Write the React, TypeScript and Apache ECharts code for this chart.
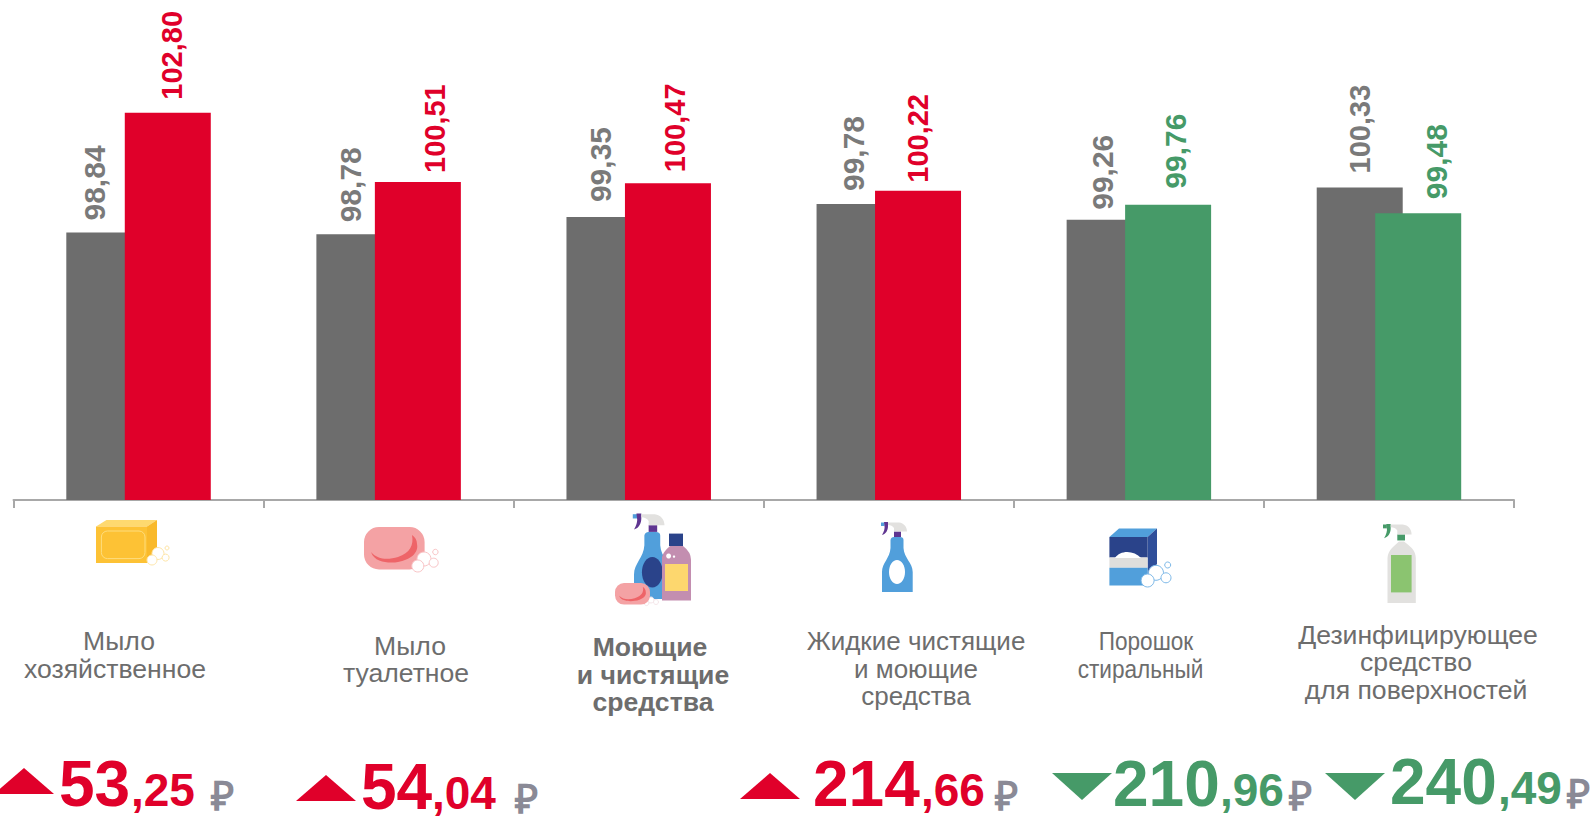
import React, { useEffect, useRef } from "react";
import * as echarts from "echarts";

const categories = ["Мыло хозяйственное", "Мыло туалетное", "Моющие и чистящие средства", "Жидкие чистящие и моющие средства", "Порошок стиральный", "Дезинфицирующее средство для поверхностей"];
const previousValues = [98.84, 98.78, 99.35, 99.78, 99.26, 100.33];
const currentValues = [102.8, 100.51, 100.47, 100.22, 99.76, 99.48];
const prices = ["53,25", "54,04", null, "214,66", "210,96", "240,49"];
const categoryLines = [
  ["Мыло", "хозяйственное"],
  ["Мыло", "туалетное"],
  ["Моющие", "и чистящие", "средства"],
  ["Жидкие чистящие", "и моющие", "средства"],
  ["Порошок", "стиральный"],
  ["Дезинфицирующее", "средство", "для поверхностей"],
];

const RED = "#e0002a";
const GREEN = "#469a68";
const GREY = "#6d6d6d";
const BLUE = "#519fdb";
const NAVY = "#2a438a";
const PURPLE = "#5f3591";
const PINK = "#f4a2a4";
const LIGHT = "#e2e1df";
const FONT = '"Liberation Sans", Arial, sans-serif';

// label placement: [gap above the bar, sideways shift from the bar centre]
const greyLabelShift = [[12, -15], [12, -9], [15, -9], [13, -6], [10, -7], [14, 0]];
const redLabelShift = [[13, 4], [9, 17], [11, 7], [8, 0], [16, 7], [14, 18]];

// x-centre and baseline of every line of the category captions
const lineLayout = [
  [[119, 650.5], [115, 678]],
  [[410, 655.5], [406, 682.5]],
  [[650, 656.5], [653, 684], [653, 711]],
  [[916, 650.5], [916, 678], [916, 705]],
  [[1146, 650.5], [1140.5, 678]],
  [[1418, 644.5], [1416, 671.5], [1416, 699.5]],
];
const captionSizes = [26.6, 26.6, 26.6, 26, 26.6, 26.6];
const priceLayout = [
  { whole: 59, cents: 131, rub: 222, base: 806, ax: 24, ay: 768, up: true },
  { whole: 361, cents: 432, rub: 526, base: 809, ax: 326, ay: 775, up: true },
  null,
  { whole: 813, cents: 921, rub: 1006, base: 806, ax: 770, ay: 773, up: true },
  { whole: 1113, cents: 1220, rub: 1300, base: 806, ax: 1082, ay: 800, up: false },
  { whole: 1390, cents: 1498, rub: 1578, base: 804, ax: 1355, ay: 800, up: false },
];

const SHAPES: Record<string, string> = {
  crescent: "M371 552 C375 564 392 563 398 562 C410 560 419 553 417 544 C417 540 415 537 412 535 C414 545 410 553 398 557 C388 560 378 560 371 552Z",
  bottle: "M882 592 L882 572 C882 563 890 558 890.5 548 L890.5 540 Q891 537 894 537 L900 537 Q903.5 537 903.5 540 L903.5 548 C904 558 912.7 563 912.7 572 L912.7 592Z",
  head: "M888 522.5 L899 522.5 C904 523 907 527 907 531.5 L894 531.5 L894 528 Q892 525 888 525Z",
  hook: "M884 522 L888 522 L888 526 C888 530 886 534 882 535 C884 532 885 528 884.5 526Z",
  pinkBottle: "M662 600.5 L662 557 Q663 552 670 546 L683 546 Q691 552 691 560 L691 600.5Z",
  arch: "M1115 556 C1120 548 1134 548 1141 556Z",
  greyBottle: "M1387.5 603 L1387.5 558 C1388 550 1394 546 1399 541.4 L1404 541.4 C1410 546 1415.8 550 1415.8 558 L1415.8 603Z",
};
Object.keys(SHAPES).forEach((k) => {
  echarts.graphic.registerShape("ic_" + k, echarts.graphic.extendPath(SHAPES[k], {}));
});

const shp = (k: string, fill: string) => ({ type: "ic_" + k, style: { fill } });
const rect = (x: number, y: number, width: number, height: number, fill: string, r = 0) => ({ type: "rect", shape: { x, y, width, height, r }, style: { fill } });
const poly = (points: number[][], fill: string) => ({ type: "polygon", shape: { points }, style: { fill } });
const bubble = (cx: number, cy: number, r: number, stroke: string) => ({ type: "circle", shape: { cx, cy, r }, style: { fill: "#ffffff", stroke, lineWidth: 1 } });

const head = (hook: string, tip: string, collar: string) => [
  rect(881, 522.5, 3.5, 3.5, tip),
  shp("hook", hook),
  rect(894, 531.5, 7, 5.5, collar),
  shp("head", LIGHT),
];

const icons = () => [
  // yellow soap
  poly([[96, 526.5], [106.5, 520], [157, 520], [147, 526.5]], "#fed96f"),
  poly([[147, 526.5], [157, 520], [157, 555], [147, 563]], "#f9b92a"),
  rect(96, 526.5, 51, 36.5, "#fdc235"),
  { type: "rect", shape: { x: 101.4, y: 531, width: 43.6, height: 27.6, r: 6 }, style: { fill: "none", stroke: "#fedd7e", lineWidth: 1 } },
  bubble(158, 553.5, 6, "#fee6a8"),
  bubble(152, 560, 5, "#fee6a8"),
  bubble(165.6, 557.6, 3.5, "#fee6a8"),
  bubble(167, 548, 2, "#fee6a8"),
  // pink soap
  rect(364, 527, 60.6, 42.4, PINK, 15),
  shp("crescent", "#ee6468"),
  bubble(424, 559, 7, "#f9c4c6"),
  bubble(417.8, 566, 6, "#f9c4c6"),
  bubble(433.7, 562.7, 4.5, "#f9c4c6"),
  bubble(435.4, 552, 2.7, "#f9c4c6"),
  // cleaning set
  {
    type: "group",
    x: 634 - 1.22 * 882,
    y: 599 - 1.22 * 592,
    scaleX: 1.22,
    scaleY: 1.22,
    children: [
      shp("bottle", BLUE),
      ...head(PURPLE, BLUE, PURPLE),
      { type: "ellipse", shape: { cx: 897, cy: 570, rx: 8.5, ry: 12.5 }, style: { fill: NAVY } },
    ],
  },
  shp("pinkBottle", "#c38eb0"),
  rect(669, 533.6, 14, 12.4, NAVY),
  rect(665, 564, 23, 27, "#fdd76e"),
  { type: "circle", shape: { cx: 668.6, cy: 556, r: 2.5 }, style: { fill: "#ffffff" } },
  { type: "circle", shape: { cx: 674, cy: 556.6, r: 1.2 }, style: { fill: "#ffffff" } },
  bubble(651, 600, 3, "#f5e6ea"),
  bubble(656, 602, 2.5, "#f5e6ea"),
  bubble(646.5, 603, 2.5, "#f5e6ea"),
  rect(615, 583, 35, 21.6, PINK, 9),
  { type: "group", x: 615 - 0.58 * 364, y: 583 - 0.51 * 527, scaleX: 0.58, scaleY: 0.51, children: [shp("crescent", "#ee6468")] },
  // spray
  shp("bottle", BLUE),
  ...head(PURPLE, BLUE, PURPLE),
  { type: "ellipse", shape: { cx: 897, cy: 572, rx: 8, ry: 12 }, style: { fill: "#ffffff" } },
  // powder
  poly([[1109.4, 537], [1119, 528.5], [1157, 528.5], [1147.6, 537]], BLUE),
  poly([[1147.6, 537], [1157, 528.5], [1157, 564], [1147.6, 574.5]], "#2f4e9a"),
  rect(1109.4, 537, 38.2, 20.6, NAVY),
  rect(1109.4, 557.6, 38.2, 10.1, "#dfdedc"),
  rect(1109.4, 567.7, 38.2, 17.9, BLUE),
  { type: "group", x: 0, y: 2, children: [shp("arch", "#ffffff")] },
  bubble(1156, 572.8, 7.5, "#7cb8e8"),
  bubble(1147.6, 580.5, 6.5, "#7cb8e8"),
  bubble(1166, 577.8, 5, "#7cb8e8"),
  bubble(1167.7, 565, 3, "#7cb8e8"),
  // disinfectant
  { type: "group", x: 1411.6 - 1.1 * 907, y: 524.5 - 1.1 * 522.5, scaleX: 1.1, scaleY: 1.1, children: head(GREEN, GREEN, GREEN) },
  shp("greyBottle", LIGHT),
  rect(1391, 555, 20.6, 37.4, "#8bc470"),
];

const txt = (text: string, x: number, base: number, size: number, fill: string, weight = "normal", align = "left", extra: any = {}) => ({
  type: "text",
  x,
  y: base - 0.35 * size,
  ...extra,
  style: { text, fontFamily: FONT, fontSize: size, fontWeight: weight, fill, align, verticalAlign: "middle" },
});

const captions = () =>
  categoryLines.flatMap((lines, i) =>
    lines.map((line, j) => {
      const [x, base] = lineLayout[i][j];
      return txt(line, x, base, captionSizes[i], GREY, i === 2 ? "bold" : "normal", "center", i === 4 ? { scaleX: 0.85 } : {});
    }),
  );

const priceMarks = () =>
  prices.flatMap((p, i) => {
    const l = priceLayout[i];
    if (!p || !l) return [];
    const [whole, cents] = p.split(",");
    const color = l.up ? RED : GREEN;
    const dy = l.up ? 26 : -27;
    return [
      poly([[l.ax, l.ay], [l.ax - 30, l.ay + dy], [l.ax + 30, l.ay + dy]], color),
      txt(whole, l.whole, l.base, 64, color, "bold"),
      txt("," + cents, l.cents, l.base, 46, color, "bold"),
      txt("₽", l.rub, l.base + 4, 40, "#8a8a96", "bold", "center"),
    ];
  });

const fmt = (v: number) => v.toFixed(2).replace(".", ",");

const barLabel = (value: number, shift: number[], color: string) => ({
  show: true,
  position: "top",
  rotate: 90,
  align: "left",
  verticalAlign: "middle",
  distance: 0,
  offset: shift,
  formatter: fmt(value),
  fontFamily: FONT,
  fontSize: value < 100 ? 30 : 29,
  fontWeight: "bold",
  color,
});

export default function App() {
  const ref = useRef<HTMLDivElement>(null);
  useEffect(() => {
    document.body.style.margin = "0";
    const chart = echarts.init(ref.current!, undefined, { renderer: "svg" });
    chart.setOption({
      animation: false,
      grid: { left: 13.5, right: 77, top: 15.84, bottom: 329 },
      xAxis: {
        type: "category",
        data: categories,
        axisLine: { lineStyle: { color: "#a8a8a8", width: 2 } },
        axisTick: { show: true, interval: 0, length: 8, lineStyle: { color: "#a8a8a8", width: 2 } },
        axisLabel: { show: false, interval: 0 },
      },
      yAxis: { type: "value", min: 90, max: 106, show: false, splitLine: { show: false } },
      series: [
        {
          type: "bar",
          barWidth: 86,
          barGap: "-32%",
          itemStyle: { color: GREY },
          data: previousValues.map((value, i) => ({ value, label: barLabel(value, greyLabelShift[i], "#7a7a7a") })),
        },
        {
          type: "bar",
          barWidth: 86,
          data: currentValues.map((value, i) => ({
            value,
            itemStyle: { color: value > 100 ? RED : GREEN },
            label: barLabel(value, redLabelShift[i], value > 100 ? RED : GREEN),
          })),
        },
      ],
      graphic: { elements: [...icons(), ...captions(), ...priceMarks()] },
    });
    return () => chart.dispose();
  }, []);
  return <div ref={ref} style={{ width: 1591, height: 829, background: "#ffffff" }} />;
}
